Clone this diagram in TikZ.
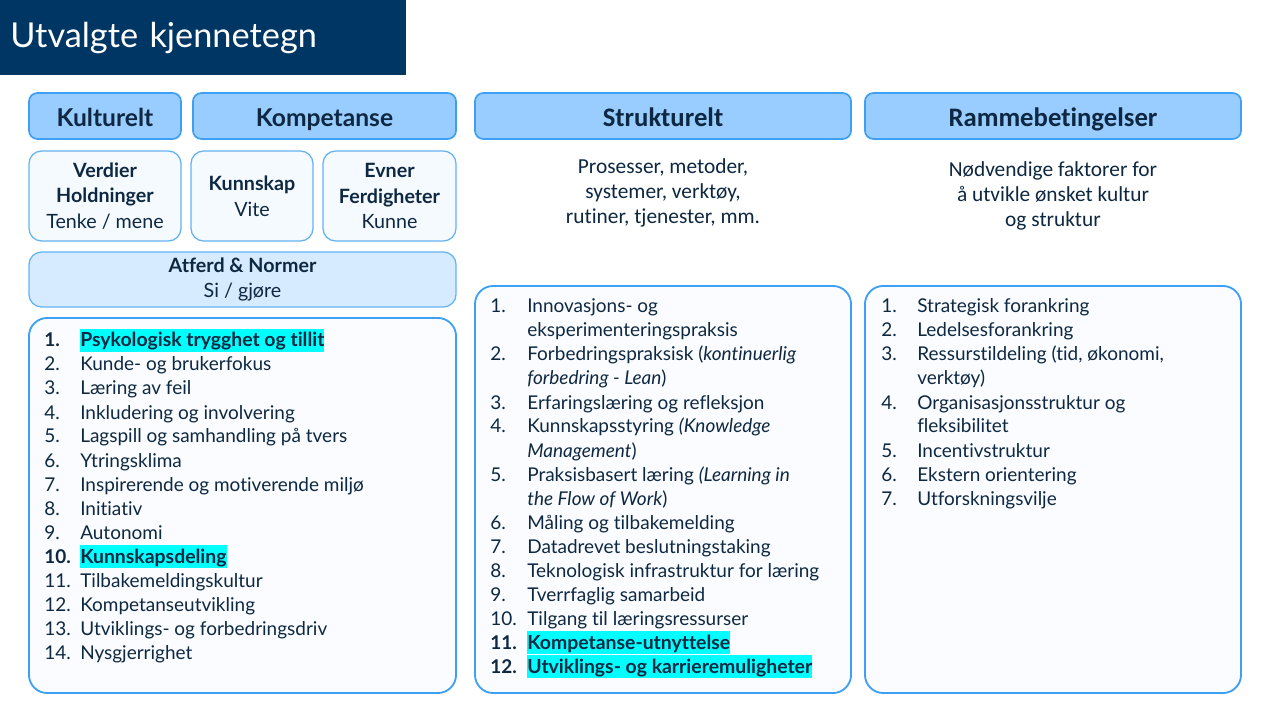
\documentclass[tikz,border=0pt]{standalone}
\usepackage{fontspec}
\setmainfont{Lato}[Ligatures={NoCommon,NoRequired,NoContextual}]
\newfontfamily\narrowfont{Carlito}[Ligatures={NoCommon,NoRequired,NoContextual}]
\usetikzlibrary{positioning}
\definecolor{cTitle}{RGB}{0,54,99}
\definecolor{cText}{RGB}{14,40,65}
\definecolor{cHead}{RGB}{153,204,255}
\definecolor{cLine}{RGB}{61,160,245}
\definecolor{cSoft}{RGB}{245,250,255}
\definecolor{cNorm}{RGB}{214,235,255}
\definecolor{cList}{RGB}{250,252,255}
\definecolor{cMark}{RGB}{0,255,255}
\tikzset{
  head/.style={
    rectangle, rounded corners=6pt, draw=cLine, fill=cHead, line width=1.2pt,
    text=cText, font=\fontsize{17.5}{20}\selectfont\bfseries, inner sep=0pt,
    text height=17.5pt, text depth=3pt,
  },
  headN/.style={head, font=\narrowfont\fontsize{19}{20}\selectfont\bfseries},
  cell/.style={
    rectangle, rounded corners=9pt, draw=cLine!80, fill=cSoft, line width=0.9pt,
    align=center, text=cText, font=\fontsize{14}{18.2}\selectfont, inner sep=0pt,
  },
  panel/.style={rectangle, rounded corners=13pt, draw=cLine, fill=cList, line width=1.3pt},
  desc/.style={align=center, text=cText, font=\narrowfont\fontsize{15.2}{18}\selectfont},
  nr/.style={anchor=base west, inner sep=0pt, text=cText, font=\fontsize{13.5}{17}\selectfont},
  itm/.style={nr},
  hl/.style={nr, font=\fontsize{13.8}{17}\selectfont\bfseries, fill=cMark,
    text height=12.8pt, text depth=3.6pt},
}

\begin{document}
\begin{tikzpicture}[x=0.025cm, y=-0.025cm]

% ===== canvas =====
\fill[white] (0,0) rectangle (1280,720);

% ===== title bar =====
\node[fill=cTitle, anchor=north west, minimum width=10.15cm, minimum height=1.875cm,
      text width=9.65cm, inner xsep=0.25cm, inner ysep=0pt, align=left, text=white,
      font=\fontsize{24.4}{28}\selectfont]
  (title) at (0,0) {Utvalgte kjennetegn};

% ===== column headers =====
\node[head, minimum width=3.8cm, minimum height=1.15cm] (kult) at (105,116) {Kulturelt};
\node[head, minimum width=6.575cm, minimum height=1.15cm] (komp) at (324.5,116) {Kompetanse};
\node[headN, minimum width=9.4cm, minimum height=1.15cm] (strukt) at (663,116) {Strukturelt};
\node[headN, minimum width=9.4cm, minimum height=1.15cm] (ramme) at (1053,116) {Rammebetingelser};

% ===== culture / competence cells =====
\node[cell, minimum width=3.8cm, minimum height=2.25cm] (verdier) at (105,196)
  {\textbf{Verdier}\\\textbf{Holdninger}\\Tenke / mene};
\node[cell, minimum width=3.05cm, minimum height=2.25cm] (kunnskap) at (252,196)
  {\textbf{Kunnskap}\\Vite};
\node[cell, minimum width=3.325cm, minimum height=2.25cm] (evner) at (389.5,196)
  {\textbf{Evner}\\\textbf{Ferdigheter}\\Kunne};
\node[cell, fill=cNorm, minimum width=10.675cm, minimum height=1.375cm] (atferd) at (242.5,279.5)
  {\textbf{Atferd \& Normer}\\Si / gjøre};

% ===== descriptions =====
\node[desc] (struktD) at (663,193)
  {Prosesser, metoder,\\systemer, verktøy,\\rutiner, tjenester, mm.};
\node[desc] (rammeD) at (1053,196)
  {Nødvendige faktorer for\\å utvikle ønsket kultur\\og struktur};

% ===== list panels =====
\node[panel, minimum width=10.675cm, minimum height=9.375cm] (kultL) at (242.5,505.5) {};
\node[panel, minimum width=9.4cm, minimum height=10.175cm] (struktL) at (663,489.5) {};
\node[panel, minimum width=9.4cm, minimum height=10.175cm] (rammeL) at (1053,489.5) {};

% left list
\foreach \k/\n/\t/\s in {
  0/{\textbf{1.}}/{Psykologisk trygghet og tillit}/hl,
  1/2./{Kunde- og brukerfokus}/itm,
  2/3./{Læring av feil}/itm,
  3/4./{Inkludering og involvering}/itm,
  4/5./{Lagspill og samhandling på tvers}/itm,
  5/6./{Ytringsklima}/itm,
  6/7./{Inspirerende og motiverende miljø}/itm,
  7/8./{Initiativ}/itm,
  8/9./{Autonomi}/itm,
  9/{\textbf{10.}}/{Kunnskapsdeling}/hl,
  10/11./{Tilbakemeldingskultur}/itm,
  11/12./{Kompetanseutvikling}/itm,
  12/13./{Utviklings- og forbedringsdriv}/itm,
  13/14./{Nysgjerrighet}/itm}
{
  \node[nr] (kn\k) at (44,347+24*\k) {\n};
  \node[\s] (kt\k) at (80,347+24*\k) {\t};
}

% middle list
\foreach \k/\n/\t/\s in {
  0/1./{Innovasjons- og}/itm,
  1/{}/{eksperimenteringspraksis}/itm,
  2/2./{Forbedringspraksisk (\textit{kontinuerlig}}/itm,
  3/{}/{\textit{forbedring - Lean})}/itm,
  4/3./{Erfaringslæring og refleksjon}/itm,
  5/4./{Kunnskapsstyring \textit{(Knowledge}}/itm,
  6/{}/{\textit{Management})}/itm,
  7/5./{Praksisbasert læring \textit{(Learning in}}/itm,
  8/{}/{\textit{the Flow of Work})}/itm,
  9/6./{Måling og tilbakemelding}/itm,
  10/7./{Datadrevet beslutningstaking}/itm,
  11/8./{Teknologisk infrastruktur for læring}/itm,
  12/9./{Tverrfaglig samarbeid}/itm,
  13/10./{Tilgang til læringsressurser}/itm,
  14/{\textbf{11.}}/{Kompetanse-utnyttelse}/hl,
  15/{\textbf{12.}}/{Utviklings- og karrieremuligheter}/hl}
{
  \node[nr] (sn\k) at (490,313+24*\k) {\n};
  \node[\s] (st\k) at (527,313+24*\k) {\t};
}

% right list
\foreach \k/\n/\t/\s in {
  0/1./{Strategisk forankring}/itm,
  1/2./{Ledelsesforankring}/itm,
  2/3./{Ressurstildeling (tid, økonomi,}/itm,
  3/{}/{verktøy)}/itm,
  4/4./{Organisasjonsstruktur og}/itm,
  5/{}/{fleksibilitet}/itm,
  6/5./{Incentivstruktur}/itm,
  7/6./{Ekstern orientering}/itm,
  8/7./{Utforskningsvilje}/itm}
{
  \node[nr] (rn\k) at (881,313+24*\k) {\n};
  \node[\s] (rt\k) at (917,313+24*\k) {\t};
}

\end{tikzpicture}
\end{document}
